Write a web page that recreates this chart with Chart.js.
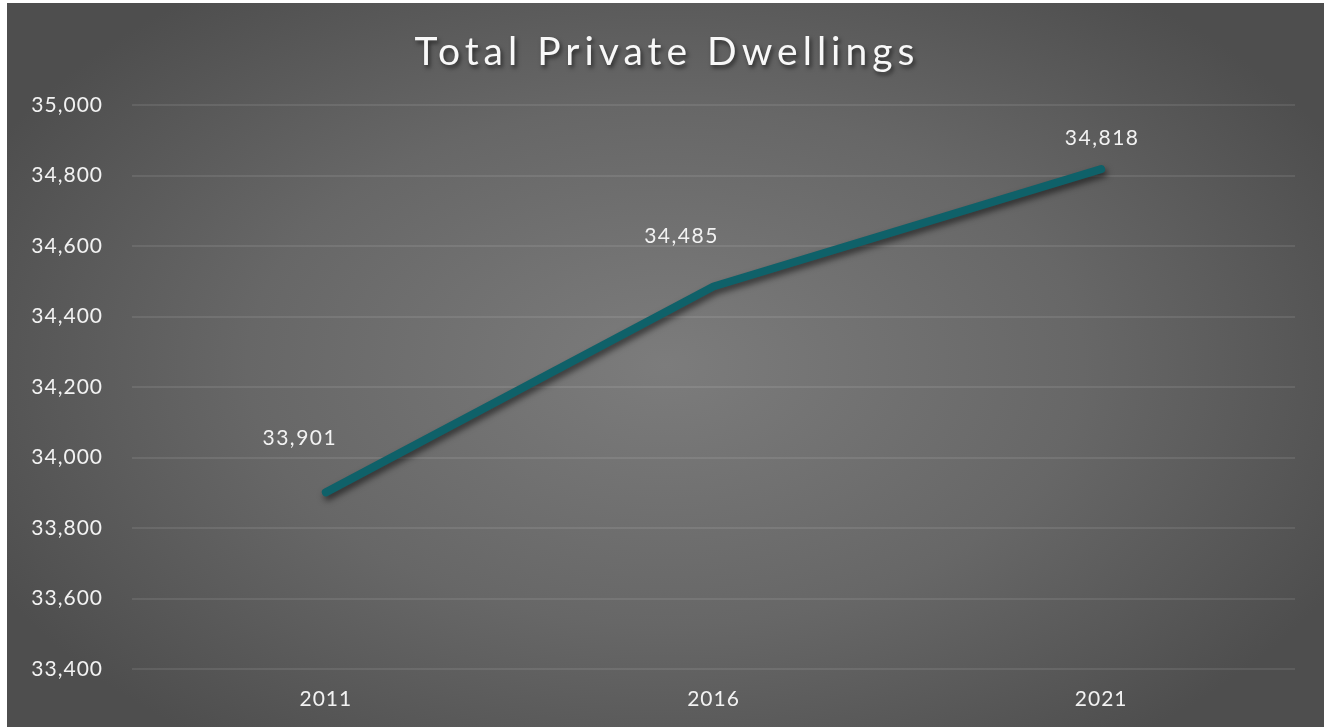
<!DOCTYPE html>
<html>
<head>
<meta charset="utf-8">
<script src="https://cdn.jsdelivr.net/npm/chart.js@4.4.1/dist/chart.umd.min.js"></script>
<style>
  html, body { margin: 0; padding: 0; background: #ffffff; }
  #wrap { width: 1331px; height: 727px; position: relative; }
</style>
</head>
<body>
<div id="wrap"><canvas id="c" width="1331" height="727"></canvas></div>
<script>
const titleText = "Total Private Dwellings";
const categories = ["2011", "2016", "2021"];
const dwellings = [33901, 34485, 34818];
const yMin = 33400;
const yMax = 35000;
const yStep = 200;

const FONT = "Lato, 'Open Sans', 'DejaVu Sans', sans-serif";

const bgPlugin = {
  id: 'bg',
  beforeDraw(chart) {
    const ctx = chart.ctx;
    const x0 = 7, y0 = 3, x1 = 1324, y1 = 727;
    ctx.save();
    ctx.fillStyle = '#ffffff';
    ctx.fillRect(0, 0, chart.width, chart.height);
    const cx = (x0 + x1) / 2, cy = (y0 + y1) / 2;
    ctx.translate(cx, cy);
    ctx.scale(1, 0.62);
    const g = ctx.createRadialGradient(0, 0, 0, 0, 0, 760);
    g.addColorStop(0, '#7c7c7c');
    g.addColorStop(0.55, '#676767');
    g.addColorStop(1, '#4e4e4e');
    ctx.fillStyle = g;
    ctx.fillRect(x0 - cx, (y0 - cy) / 0.62, x1 - x0, (y1 - y0) / 0.62);
    ctx.restore();
    // title
    ctx.save();
    ctx.font = "400 39px " + FONT;
    ctx.letterSpacing = "5px";
    ctx.textAlign = 'center';
    ctx.textBaseline = 'alphabetic';
    ctx.shadowColor = 'rgba(0,0,0,0.55)';
    ctx.shadowBlur = 4;
    ctx.shadowOffsetX = 2;
    ctx.shadowOffsetY = 3;
    ctx.fillStyle = '#f8f8f8';
    ctx.fillText(titleText, 667, 65);
    ctx.restore();
    ctx.letterSpacing = "1px";
  }
};

const shadowPlugin = {
  id: 'lineShadow',
  beforeDatasetDraw(chart) {
    const ctx = chart.ctx;
    ctx.save();
    ctx.shadowColor = 'rgba(0,0,0,0.55)';
    ctx.shadowBlur = 6;
    ctx.shadowOffsetX = 2;
    ctx.shadowOffsetY = 4;
  },
  afterDatasetDraw(chart) {
    chart.ctx.restore();
  }
};

const labelOffsets = [[-26, -54], [-32, -50], [1, -31]];
const labelPlugin = {
  id: 'dataLabels',
  afterDatasetsDraw(chart) {
    const ctx = chart.ctx;
    const xs = chart.scales.x, ys = chart.scales.y;
    ctx.save();
    ctx.font = "21px " + FONT;
    ctx.letterSpacing = "1.5px";
    ctx.fillStyle = '#f2f2f2';
    ctx.textAlign = 'center';
    ctx.textBaseline = 'middle';
    dwellings.forEach((v, i) => {
      const px = xs.getPixelForValue(i);
      const py = ys.getPixelForValue(v);
      const o = labelOffsets[i];
      ctx.fillText(v.toLocaleString('en-US'), px + o[0], py + o[1]);
    });
    ctx.restore();
  }
};

new Chart(document.getElementById('c'), {
  type: 'line',
  data: {
    labels: categories,
    datasets: [{
      label: 'Total Private Dwellings',
      data: dwellings,
      borderColor: '#0f6169',
      borderWidth: 8,
      borderCapStyle: 'round',
      borderJoinStyle: 'round',
      pointRadius: 0,
      tension: 0,
      fill: false
    }]
  },
  options: {
    responsive: false,
    animation: false,
    devicePixelRatio: 1,
    layout: { padding: { left: 7, top: 105, right: 36, bottom: 0 } },
    plugins: {
      legend: { display: false },
      title: { display: false },
      tooltip: { enabled: false }
    },
    scales: {
      x: {
        offset: true,
        afterFit(scale) { scale.height = 58; },
        grid: { display: false, drawTicks: false },
        border: { display: false },
        ticks: { color: '#f2f2f2', font: { size: 21, family: FONT }, padding: 18 }
      },
      y: {
        min: yMin,
        max: yMax,
        afterFit(scale) { scale.width = 125; },
        ticks: {
          stepSize: yStep,
          color: '#f2f2f2',
          font: { size: 21, family: FONT },
          padding: 29,
          callback: (v) => Number(v).toLocaleString('en-US')
        },
        grid: { color: 'rgba(255,255,255,0.09)', lineWidth: 2, drawTicks: false },
        border: { display: false }
      }
    }
  },
  plugins: [bgPlugin, shadowPlugin, labelPlugin]
});
</script>
</body>
</html>
